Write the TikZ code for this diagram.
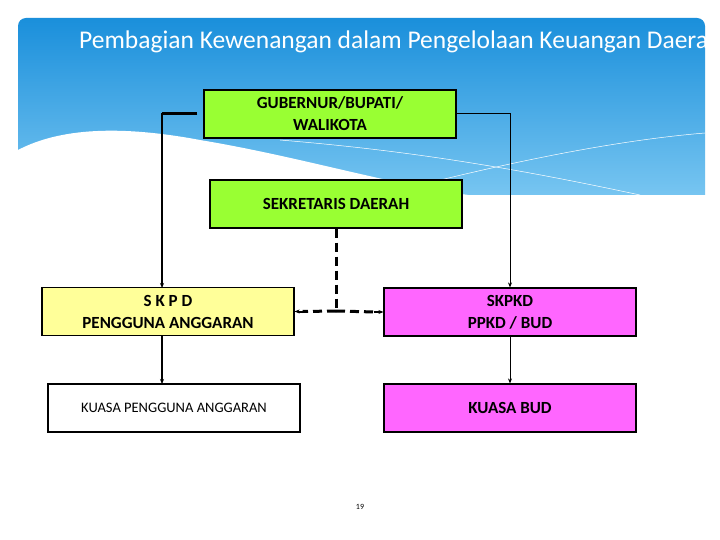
\documentclass[tikz,border=0pt]{standalone}
\usepackage{fontspec}
\setmainfont{Carlito}
\usetikzlibrary{arrows.meta}
\definecolor{hdrA}{HTML}{1A8FDB}
\definecolor{hdrB}{HTML}{7CC8F2}
\definecolor{grn}{HTML}{99FF33}
\definecolor{ylw}{HTML}{FFFF99}
\definecolor{mag}{HTML}{FF66FF}
\tikzset{
 box/.style={draw=black,line width=1.2pt,minimum width=252pt,minimum height=48pt,align=center,font=\fontsize{17}{22}\selectfont\bfseries,inner sep=0pt},
 arr/.style={-{Stealth[length=5pt,width=4pt]}},
 dsh/.style={line width=3pt,dash pattern=on 9pt off 5pt},
}
\begin{document}
\begin{tikzpicture}[x=1pt,y=-1pt]
\useasboundingbox (0,0) rectangle (720,540);
\fill[white] (0,0) rectangle (720,540);
% header
\shade[top color=hdrA,bottom color=hdrB,rounded corners=8pt] (18,18) rectangle (705,205);
\fill[white] (18,150) .. controls (60,128) and (120,125) .. (200,140)
  .. controls (320,160) and (420,195) .. (520,200) .. controls (600,203) and (660,200) .. (705,195)
  -- (705,210) -- (18,210) -- cycle;
\fill[white] (17,195) rectangle (706,215);
\draw[white,line width=0.5pt] (280,140) .. controls (400,150) and (500,165) .. (640,195);
\draw[white,line width=0.5pt] (420,185) .. controls (520,160) and (620,140) .. (705,133);
\begin{scope}
\clip (18,18) rectangle (705,80);
\node[anchor=west,text=white,font=\fontsize{25.5}{28}\selectfont,inner sep=0pt] (title) at (79,42) {Pembagian Kewenangan dalam Pengelolaan Keuangan Daerah};
\end{scope}
% boxes
\node[box,fill=grn] (gub) at (330,114) {GUBERNUR/BUPATI/\\WALIKOTA};
\node[box,fill=grn] (sek) at (336,204) {SEKRETARIS DAERAH};
\node[box,fill=ylw] (skpd) at (168,311.5) {S K P D\\PENGGUNA ANGGARAN};
\node[box,fill=mag] (skpkd) at (510,312) {SKPKD\\PPKD / BUD};
\node[box,fill=white,font=\fontsize{14.5}{16}\selectfont] (kpa) at (174,408) {KUASA PENGGUNA ANGGARAN};
\node[box,fill=mag] (kbud) at (510,408) {KUASA BUD};
\node[font=\fontsize{8}{9}\selectfont] (pg) at (360,507) {19};
% connectors
\draw[line width=3pt] ([xshift=-6pt]gub.west) -- (162,114) coordinate (c1);
\draw[line width=2pt,arr] (162,113) -- (162,288);
\draw[line width=1pt,arr] (gub.east) -- (510,114) -- (skpkd.north);
\coordinate (m) at (336,311);
\draw[dsh] (sek.south) -- (m);
\draw[dsh] (m) -- ([xshift=8pt]skpd.east);
\draw[dsh] (m) -- ([xshift=-8pt]skpkd.west);
\draw[line width=2pt,arr] ([xshift=9pt]skpd.east) -- (skpd.east);
\draw[line width=2pt,arr] ([xshift=-9pt]skpkd.west) -- (skpkd.west);
\draw[line width=1.5pt,arr] (162,336) -- (162,384);
\draw[line width=0.8pt,arr] (skpkd.south) -- (kbud.north);
\end{tikzpicture}
\end{document}
